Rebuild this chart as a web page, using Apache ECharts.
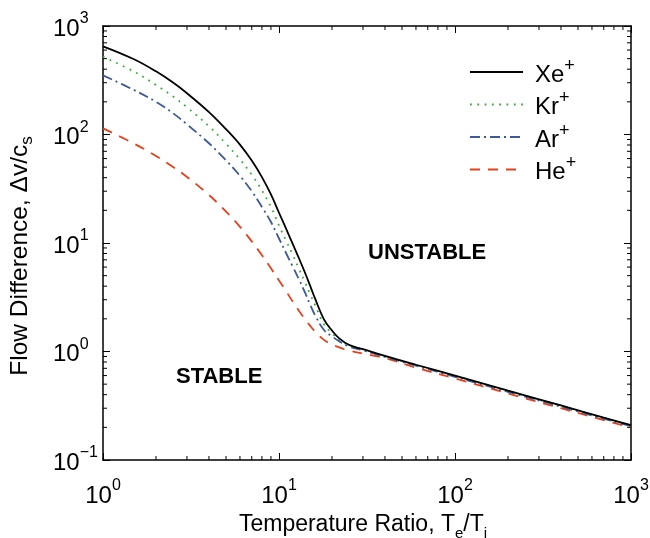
<!DOCTYPE html>
<html>
<head>
<meta charset="utf-8">
<script src="https://cdn.jsdelivr.net/npm/echarts@6/dist/echarts.min.js"></script>
<style>
  html, body { margin: 0; padding: 0; background: #fff; }
  #chart { width: 650px; height: 538px; }
</style>
</head>
<body>
<div id="chart"></div>
<script>
// temperature ratio Te/Ti (x) and flow difference dv/cs (y)
var ratio = [1, 1.5, 2, 2.5, 3, 4, 5, 6, 7, 8, 9, 10, 11, 12, 13, 14, 15, 16, 18, 20, 22, 25, 30, 40, 60, 100, 200, 400, 700, 1000]
var xeData = [650, 494, 382, 301, 240, 161, 112, 80.7, 57.5, 40.5, 28, 19, 13.4, 9.7, 7.2, 5.4, 4.07, 3.1, 1.98, 1.56, 1.32, 1.15, 1.05, 0.91, 0.755, 0.6, 0.436, 0.318, 0.246, 0.21]
var krData = [521, 380, 286, 224, 178, 119, 82, 59, 42.5, 30.5, 21.5, 14.5, 10.4, 7.7, 5.75, 4.4, 3.4, 2.7, 1.78, 1.47, 1.29, 1.135, 1.045, 0.905, 0.75, 0.595, 0.432, 0.315, 0.244, 0.208]
var arData = [351, 257, 200, 157, 124, 83, 57.7, 41.6, 30, 21.5, 15.6, 11, 8.0, 6.0, 4.6, 3.54, 2.73, 2.17, 1.58, 1.38, 1.24, 1.11, 1.025, 0.89, 0.74, 0.585, 0.425, 0.31, 0.24, 0.205]
var heData = [114, 82.4, 63.4, 50.2, 40.6, 27.7, 19.5, 14.1, 10.35, 7.71, 5.85, 4.51, 3.56, 2.86, 2.36, 2.0, 1.73, 1.53, 1.28, 1.16, 1.09, 1.02, 0.955, 0.87, 0.71, 0.565, 0.41, 0.3, 0.233, 0.2]

// minor tick positions on the log axes
var minorX = [2, 3, 4, 5, 6, 7, 8, 9, 20, 30, 40, 50, 60, 70, 80, 90, 200, 300, 400, 500, 600, 700, 800, 900]
var minorY = [0.2, 0.3, 0.4, 0.5, 0.6, 0.7, 0.8, 0.9, 2, 3, 4, 5, 6, 7, 8, 9, 20, 30, 40, 50, 60, 70, 80, 90, 200, 300, 400, 500, 600, 700, 800, 900]

var FONT = 'Liberation Sans'

function pairs(vals) {
  return ratio.map(function (t, i) { return [t, vals[i]] })
}

function expText(v) {
  var e = Math.round(Math.log10(v))
  return e < 0 ? '\u2212' + (-e) : '' + e
}

var supRich = {
  b: { fontSize: 24, fontFamily: FONT, color: '#000', lineHeight: 30, verticalAlign: 'bottom' },
  s: { fontSize: 16, fontFamily: FONT, color: '#000', lineHeight: 16, verticalAlign: 'top' }
}

function minorTicks(params, api) {
  var side = api.value(2)
  var v = api.value(side === 0 ? 0 : 1)
  var a, b, len = 4
  if (side === 0) {
    a = api.coord([v, 0.1]); b = api.coord([v, 1000])
    return { type: 'group', children: [
      { type: 'line', shape: { x1: a[0], y1: a[1], x2: a[0], y2: a[1] - len }, style: { stroke: '#000', lineWidth: 1 } },
      { type: 'line', shape: { x1: b[0], y1: b[1], x2: b[0], y2: b[1] + len }, style: { stroke: '#000', lineWidth: 1 } }
    ] }
  }
  a = api.coord([1, v]); b = api.coord([1000, v])
  return { type: 'group', children: [
    { type: 'line', shape: { x1: a[0], y1: a[1], x2: a[0] + len, y2: a[1] }, style: { stroke: '#000', lineWidth: 1 } },
    { type: 'line', shape: { x1: b[0], y1: b[1], x2: b[0] - len, y2: b[1] }, style: { stroke: '#000', lineWidth: 1 } }
  ] }
}

var tickData = minorX.map(function (v) { return [v, 1, 0] }).concat(minorY.map(function (v) { return [1, v, 1] }))

var axisLine = { show: true, lineStyle: { color: '#000', width: 1.5 } }
var axisTick = { show: true, inside: true, length: 7, lineStyle: { color: '#000', width: 1 } }

var chart = echarts.init(document.getElementById('chart'), null, { renderer: 'canvas' })

chart.setOption({
  animation: false,
  backgroundColor: '#fff',
  grid: { left: 103, right: 19, top: 26, bottom: 78, outerBoundsMode: 'none', containLabel: false },
  legend: {
    orient: 'vertical',
    left: 469,
    top: 57,
    padding: 0,
    itemWidth: 53,
    itemHeight: 30,
    itemGap: 2.5,
    itemStyle: { opacity: 0 },
    data: ['Xe', 'Kr', 'Ar', 'He'],
    formatter: function (name) { return '{a|' + name + '}{s|+}' },
    textStyle: {
      padding: [0, 0, 0, 7],
      rich: {
        a: { fontSize: 24, fontFamily: FONT, color: '#000', lineHeight: 30, verticalAlign: 'bottom' },
        s: { fontSize: 18, fontFamily: FONT, color: '#000', lineHeight: 14, verticalAlign: 'top' }
      }
    }
  },
  xAxis: [{
    type: 'log', logBase: 10, min: 1, max: 1000, position: 'bottom',
    axisLine: axisLine, axisTick: axisTick, splitLine: { show: false },
    axisLabel: {
      margin: 18,
      formatter: function (v) { return '{b|10}{s|' + expText(v) + '}' },
      rich: supRich
    },
    name: '{n|Temperature Ratio, T}{sub|e}{n|/T}{sub|i}',
    nameLocation: 'middle',
    nameGap: 50,
    nameTextStyle: {
      padding: [0, 8, 0, 0],
      rich: {
        n: { fontSize: 23, fontFamily: FONT, color: '#000', lineHeight: 28, verticalAlign: 'top' },
        sub: { fontSize: 15, fontFamily: FONT, color: '#000', lineHeight: 15, verticalAlign: 'bottom' }
      }
    }
  }, {
    type: 'log', logBase: 10, min: 1, max: 1000, position: 'top',
    axisLine: axisLine, axisTick: axisTick, splitLine: { show: false },
    axisLabel: { show: false }
  }],
  yAxis: [{
    type: 'log', logBase: 10, min: 0.1, max: 1000, position: 'left',
    axisLine: axisLine, axisTick: axisTick, splitLine: { show: false },
    axisLabel: {
      margin: 50,
      align: 'left',
      formatter: function (v) { return '{b|10}{s|' + expText(v) + '}' },
      rich: supRich
    },
    name: '{n|Flow Difference, \u0394v/c}{sub|s}',
    nameLocation: 'middle',
    nameGap: 67,
    nameTextStyle: {
      padding: [0, 26, 0, 0],
      rich: {
        n: { fontSize: 24.5, fontFamily: FONT, color: '#000', lineHeight: 28, verticalAlign: 'top' },
        sub: { fontSize: 17, fontFamily: FONT, color: '#000', lineHeight: 17, verticalAlign: 'bottom' }
      }
    }
  }, {
    type: 'log', logBase: 10, min: 0.1, max: 1000, position: 'right',
    axisLine: axisLine, axisTick: axisTick, splitLine: { show: false },
    axisLabel: { show: false }
  }],
  graphic: [
    { type: 'text', left: 368, top: 242, style: { text: 'UNSTABLE', font: 'bold 22px "Liberation Sans"', fill: '#000' } },
    { type: 'text', left: 176, top: 366, style: { text: 'STABLE', font: 'bold 22px "Liberation Sans"', fill: '#000' } }
  ],
  series: [
    {
      name: 'He', type: 'line', symbol: 'none', smooth: 0.4, data: pairs(heData),
      lineStyle: { color: '#e8401c', width: 1.8, type: [10, 8] }, itemStyle: { color: '#e8401c' }
    },
    {
      name: 'Ar', type: 'line', symbol: 'none', smooth: 0.4, data: pairs(arData),
      lineStyle: { color: '#3d5a98', width: 1.8, type: [10, 4, 2, 4] }, itemStyle: { color: '#3d5a98' }
    },
    {
      name: 'Kr', type: 'line', symbol: 'none', smooth: 0.4, data: pairs(krData),
      lineStyle: { color: '#3cab3c', width: 1.8, type: [1.8, 5.5] }, itemStyle: { color: '#3cab3c' }
    },
    {
      name: 'Xe', type: 'line', symbol: 'none', smooth: 0.4, data: pairs(xeData),
      lineStyle: { color: '#000', width: 1.8 }, itemStyle: { color: '#000' }
    },
    {
      type: 'custom', silent: true, clip: false, data: tickData,
      renderItem: minorTicks, z: 5
    }
  ]
})
</script>
</body>
</html>
